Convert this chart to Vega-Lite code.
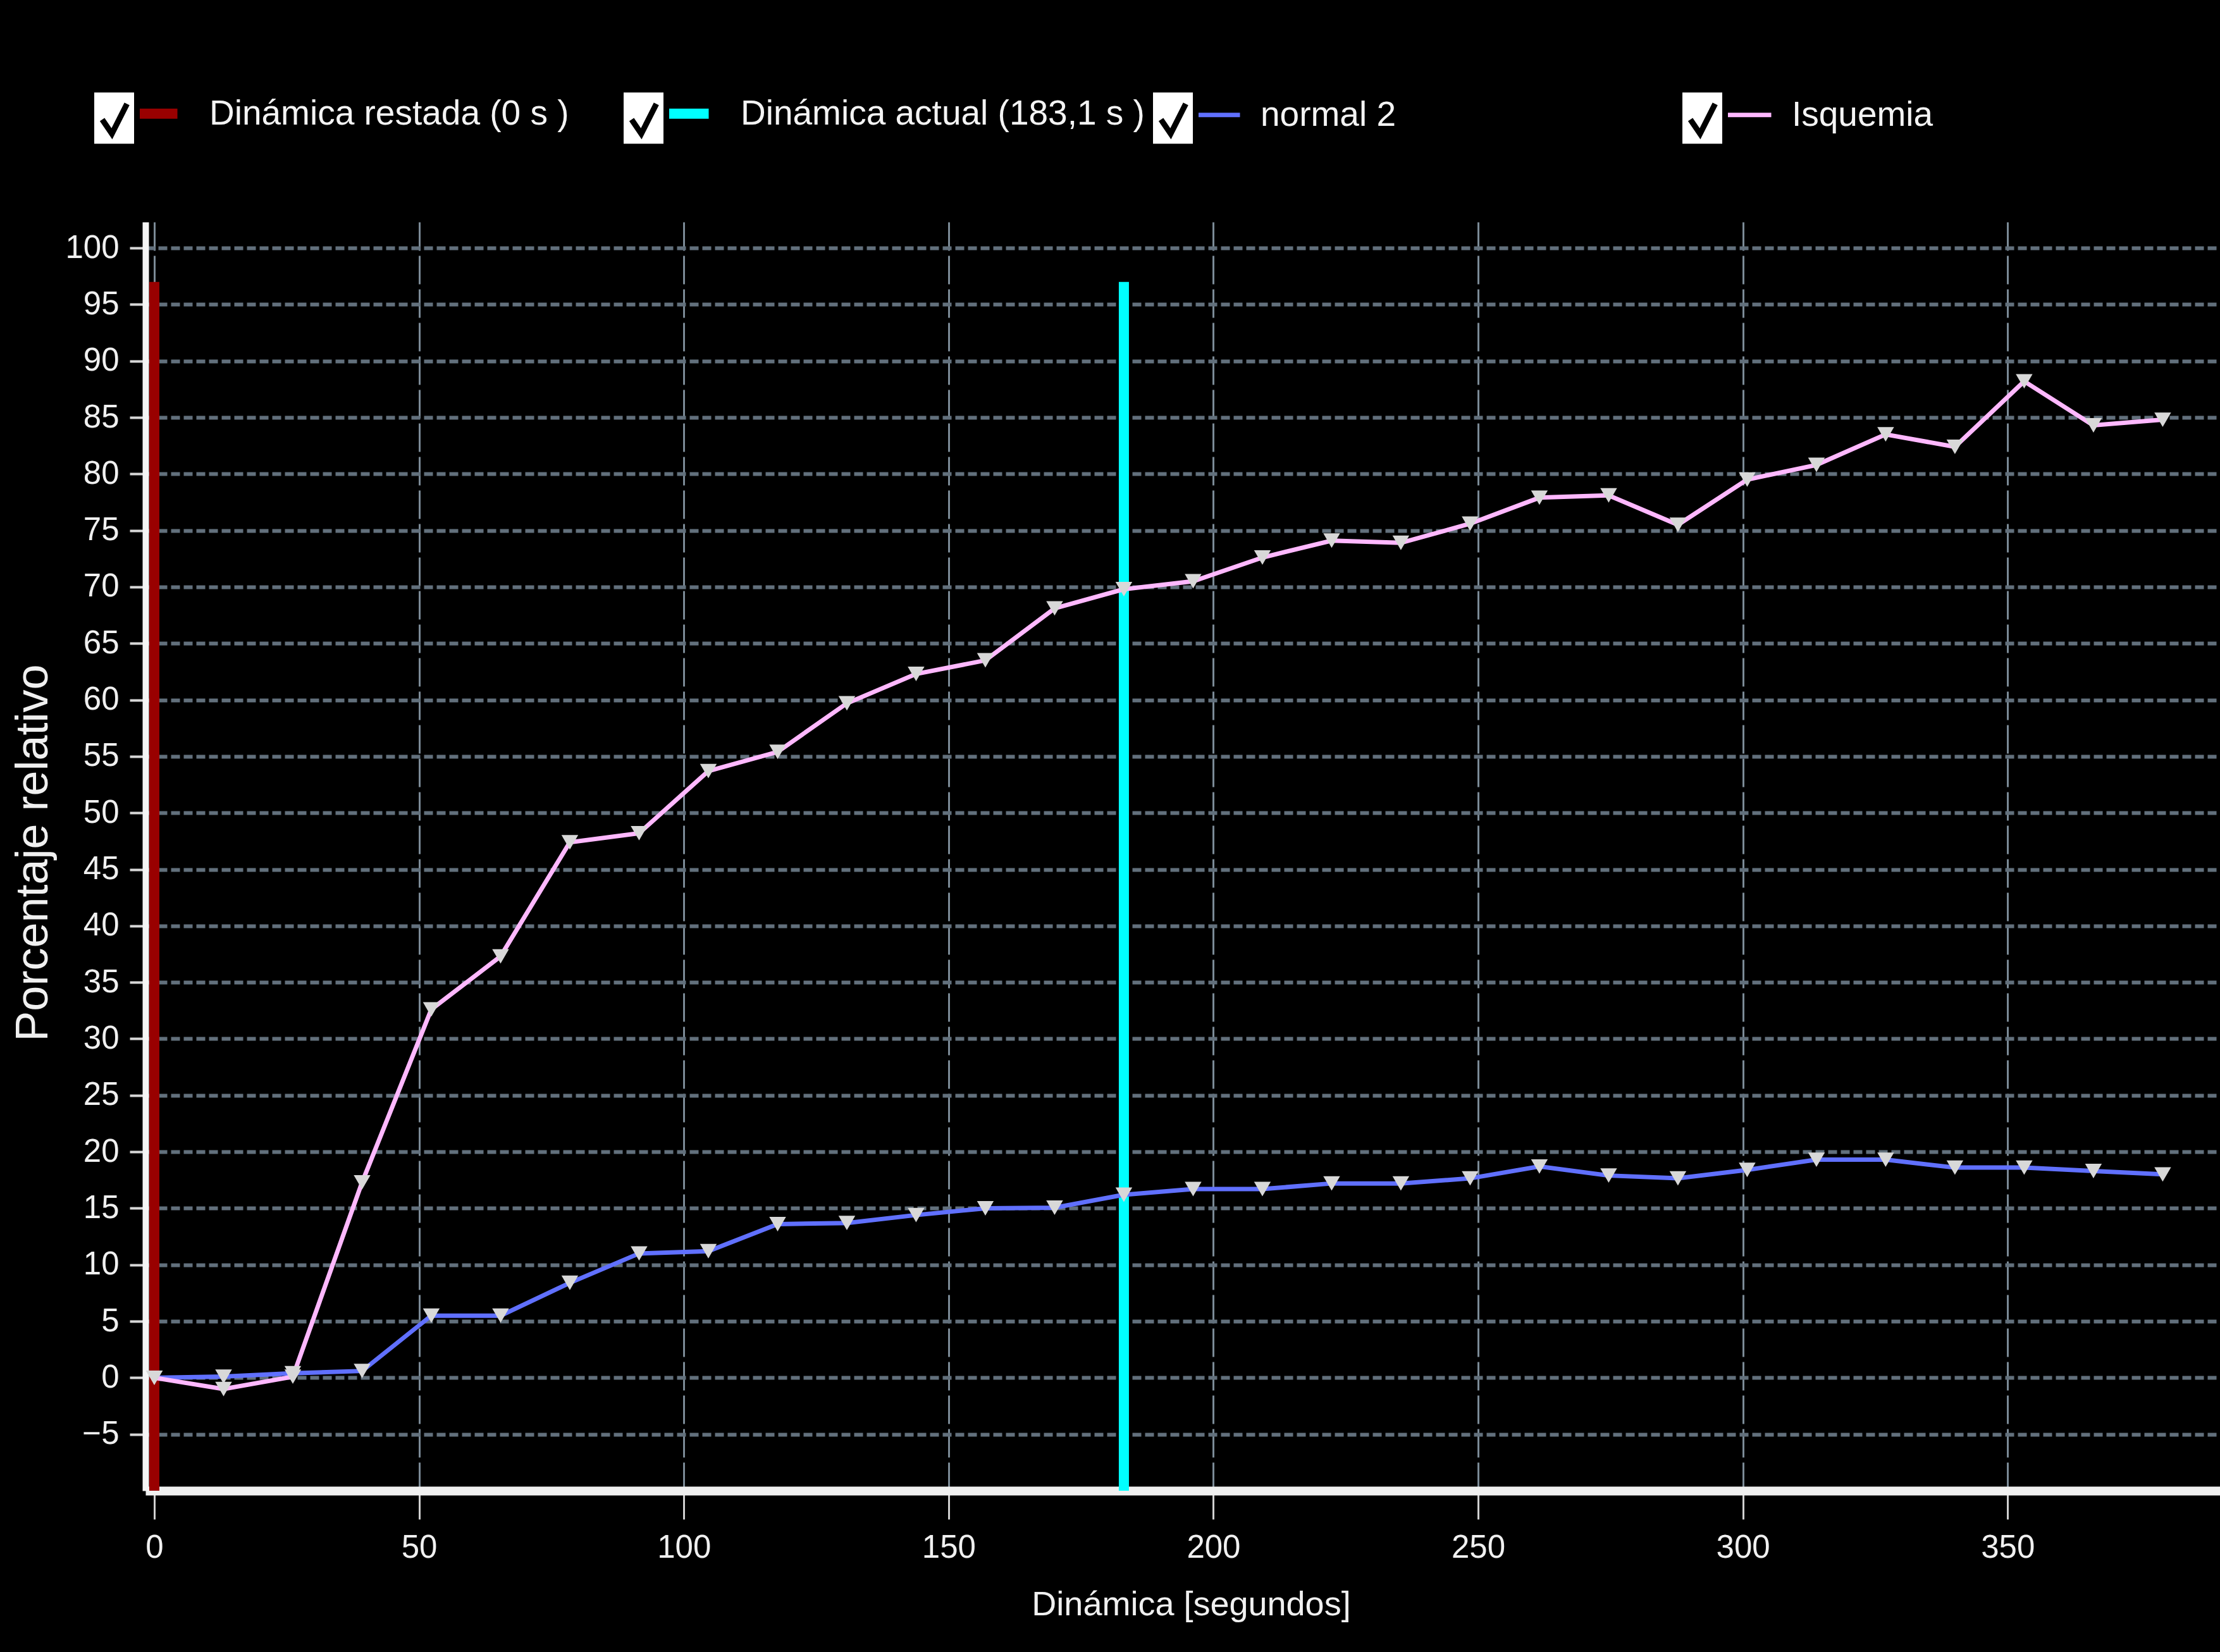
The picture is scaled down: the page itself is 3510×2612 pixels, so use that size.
{
  "$schema": "https://vega.github.io/schema/vega-lite/v6.json",
  "width": 3280,
  "height": 2006,
  "autosize": "none",
  "padding": {"left": 230, "top": 351, "right": 0, "bottom": 255},
  "background": "black",
  "config": {
    "view": {"stroke": null},
    "font": "Liberation Sans"
  },
  "datasets": {
    "rules": [
      {"serie": "Dinámica restada (0 s )", "chk": "Dinámica restada (0 s )", "t": 0, "v": -10, "v2": 97},
      {"serie": "Dinámica actual (183,1 s )", "chk": "Dinámica actual (183,1 s )", "t": 183.1, "v": -10, "v2": 97}
    ],
    "series": [
      {"serie": "normal 2", "chk": "normal 2", "t": 0, "v": 0},
      {"serie": "normal 2", "chk": "normal 2", "t": 13.08, "v": 0.1},
      {"serie": "normal 2", "chk": "normal 2", "t": 26.16, "v": 0.4},
      {"serie": "normal 2", "chk": "normal 2", "t": 39.24, "v": 0.6},
      {"serie": "normal 2", "chk": "normal 2", "t": 52.31, "v": 5.5},
      {"serie": "normal 2", "chk": "normal 2", "t": 65.39, "v": 5.5},
      {"serie": "normal 2", "chk": "normal 2", "t": 78.47, "v": 8.4},
      {"serie": "normal 2", "chk": "normal 2", "t": 91.55, "v": 11.0},
      {"serie": "normal 2", "chk": "normal 2", "t": 104.63, "v": 11.2},
      {"serie": "normal 2", "chk": "normal 2", "t": 117.71, "v": 13.6},
      {"serie": "normal 2", "chk": "normal 2", "t": 130.79, "v": 13.7},
      {"serie": "normal 2", "chk": "normal 2", "t": 143.86, "v": 14.4},
      {"serie": "normal 2", "chk": "normal 2", "t": 156.94, "v": 15.0},
      {"serie": "normal 2", "chk": "normal 2", "t": 170.02, "v": 15.05},
      {"serie": "normal 2", "chk": "normal 2", "t": 183.1, "v": 16.2},
      {"serie": "normal 2", "chk": "normal 2", "t": 196.18, "v": 16.7},
      {"serie": "normal 2", "chk": "normal 2", "t": 209.26, "v": 16.7},
      {"serie": "normal 2", "chk": "normal 2", "t": 222.34, "v": 17.2},
      {"serie": "normal 2", "chk": "normal 2", "t": 235.41, "v": 17.2},
      {"serie": "normal 2", "chk": "normal 2", "t": 248.49, "v": 17.65},
      {"serie": "normal 2", "chk": "normal 2", "t": 261.57, "v": 18.7},
      {"serie": "normal 2", "chk": "normal 2", "t": 274.65, "v": 17.9},
      {"serie": "normal 2", "chk": "normal 2", "t": 287.73, "v": 17.65},
      {"serie": "normal 2", "chk": "normal 2", "t": 300.81, "v": 18.4},
      {"serie": "normal 2", "chk": "normal 2", "t": 313.89, "v": 19.3},
      {"serie": "normal 2", "chk": "normal 2", "t": 326.96, "v": 19.3},
      {"serie": "normal 2", "chk": "normal 2", "t": 340.04, "v": 18.6},
      {"serie": "normal 2", "chk": "normal 2", "t": 353.12, "v": 18.6},
      {"serie": "normal 2", "chk": "normal 2", "t": 366.2, "v": 18.3},
      {"serie": "normal 2", "chk": "normal 2", "t": 379.28, "v": 18.0},
      {"serie": "Isquemia", "chk": "Isquemia", "t": 0, "v": 0},
      {"serie": "Isquemia", "chk": "Isquemia", "t": 13.08, "v": -1.0},
      {"serie": "Isquemia", "chk": "Isquemia", "t": 26.16, "v": 0.1},
      {"serie": "Isquemia", "chk": "Isquemia", "t": 39.24, "v": 17.3},
      {"serie": "Isquemia", "chk": "Isquemia", "t": 52.31, "v": 32.6},
      {"serie": "Isquemia", "chk": "Isquemia", "t": 65.39, "v": 37.3},
      {"serie": "Isquemia", "chk": "Isquemia", "t": 78.47, "v": 47.4},
      {"serie": "Isquemia", "chk": "Isquemia", "t": 91.55, "v": 48.2},
      {"serie": "Isquemia", "chk": "Isquemia", "t": 104.63, "v": 53.7},
      {"serie": "Isquemia", "chk": "Isquemia", "t": 117.71, "v": 55.4},
      {"serie": "Isquemia", "chk": "Isquemia", "t": 130.79, "v": 59.7},
      {"serie": "Isquemia", "chk": "Isquemia", "t": 143.86, "v": 62.3},
      {"serie": "Isquemia", "chk": "Isquemia", "t": 156.94, "v": 63.5},
      {"serie": "Isquemia", "chk": "Isquemia", "t": 170.02, "v": 68.1},
      {"serie": "Isquemia", "chk": "Isquemia", "t": 183.1, "v": 69.8},
      {"serie": "Isquemia", "chk": "Isquemia", "t": 196.18, "v": 70.5},
      {"serie": "Isquemia", "chk": "Isquemia", "t": 209.26, "v": 72.6},
      {"serie": "Isquemia", "chk": "Isquemia", "t": 222.34, "v": 74.1},
      {"serie": "Isquemia", "chk": "Isquemia", "t": 235.41, "v": 73.9},
      {"serie": "Isquemia", "chk": "Isquemia", "t": 248.49, "v": 75.6},
      {"serie": "Isquemia", "chk": "Isquemia", "t": 261.57, "v": 77.9},
      {"serie": "Isquemia", "chk": "Isquemia", "t": 274.65, "v": 78.1},
      {"serie": "Isquemia", "chk": "Isquemia", "t": 287.73, "v": 75.5},
      {"serie": "Isquemia", "chk": "Isquemia", "t": 300.81, "v": 79.5},
      {"serie": "Isquemia", "chk": "Isquemia", "t": 313.89, "v": 80.8},
      {"serie": "Isquemia", "chk": "Isquemia", "t": 326.96, "v": 83.5},
      {"serie": "Isquemia", "chk": "Isquemia", "t": 340.04, "v": 82.4},
      {"serie": "Isquemia", "chk": "Isquemia", "t": 353.12, "v": 88.2},
      {"serie": "Isquemia", "chk": "Isquemia", "t": 366.2, "v": 84.3},
      {"serie": "Isquemia", "chk": "Isquemia", "t": 379.28, "v": 84.8}
    ]
  },
  "encoding": {
    "x": {
      "field": "t", "type": "quantitative",
      "scale": {"domain": [-1.67, 390.1], "nice": false, "zero": false},
      "axis": {
        "values": [0, 50, 100, 150, 200, 250, 300, 350],
        "title": "Dinámica [segundos]",
        "grid": true, "gridColor": "#7b8a96", "gridDash": [45, 8], "gridWidth": 3,
        "domainColor": "#f0f0f0", "domainWidth": 14,
        "tickColor": "#d0d0d0", "tickSize": 45, "tickWidth": 3,
        "labelColor": "#f0f0f0", "labelFont": "Liberation Sans", "labelFontSize": 51, "labelPadding": 20,
        "labelFlush": false, "labelOverlap": false,
        "titleColor": "#f0f0f0", "titleFont": "Liberation Sans", "titleFontSize": 54, "titleFontWeight": "normal",
        "titleX": 1653, "titleY": 180, "titleAlign": "center", "titleBaseline": "middle"
      }
    },
    "y": {
      "field": "v", "type": "quantitative",
      "scale": {"domain": [-10, 102.3], "nice": false, "zero": false},
      "axis": {
        "values": [-5, 0, 5, 10, 15, 20, 25, 30, 35, 40, 45, 50, 55, 60, 65, 70, 75, 80, 85, 90, 95, 100],
        "title": "Porcentaje relativo",
        "grid": true, "gridColor": "#62707c", "gridDash": [14, 6], "gridWidth": 6,
        "domainColor": "#f5f5f5", "domainWidth": 10,
        "tickColor": "#d8d8d8", "tickSize": 25, "tickWidth": 4,
        "labelColor": "#f0f0f0", "labelFont": "Liberation Sans", "labelFontSize": 51, "labelPadding": 17,
        "labelFlush": false, "labelOverlap": false,
        "titleColor": "#f0f0f0", "titleFont": "Liberation Sans", "titleFontSize": 72, "titleFontWeight": "normal",
        "titleX": -178, "titleY": 997, "titleAngle": 270, "titleAlign": "center", "titleBaseline": "middle"
      }
    }
  },
  "layer": [
    {
      "data": {"name": "rules"},
      "mark": {"type": "rule", "strokeWidth": 16},
      "encoding": {
        "y2": {"field": "v2"},
        "color": {
          "field": "serie", "type": "nominal",
          "scale": {"domain": ["Dinámica restada (0 s )", "Dinámica actual (183,1 s )", "normal 2", "Isquemia"], "range": ["#990000", "#00ffff", "#6070ff", "#ffb8ff"]},
          "legend": {
            "orient": "none", "legendX": -13, "legendY": -199,
            "direction": "horizontal", "columns": 4, "gridAlign": "all", "title": null, "padding": 0,
            "symbolType": "stroke", "symbolSize": 5184, "symbolStrokeWidth": 16,
            "labelFont": "Liberation Sans", "labelFontSize": 55, "labelColor": "#f4f4f4", "labelLimit": 2000, "labelOffset": 59,
            "columnPadding": 46,
            "encode": {
              "symbols": {"update": {"strokeWidth": {"signal": "datum.value === 'normal 2' || datum.value === 'Isquemia' ? 7 : 16"}, "opacity": {"value": 1}}},
              "labels": {"update": {"dx": {"signal": "datum.value === 'normal 2' || datum.value === 'Isquemia' ? -18 : 0"}}}
            }
          }
        },
        "opacity": {
          "field": "chk", "type": "ordinal",
          "scale": {"type": "point", "range": [1, 1]},
          "legend": {
            "orient": "none", "legendX": -99, "legendY": -214,
            "direction": "horizontal", "columns": 4, "gridAlign": "all", "title": null, "padding": 0,
            "symbolType": "M-0.8,-1H0.8V1H-0.8Z M0.45,-0.5L-0.08,0.55L-0.42,0.05",
            "symbolSize": 8100, "symbolStrokeWidth": 9, "symbolFillColor": "white", "symbolStrokeColor": "black",
            "labelExpr": "''", "labelFontSize": 10, "labelOffset": 0, "labelLimit": 10,
            "columnPadding": 728,
            "encode": {"symbols": {"update": {"fill": {"value": "white"}, "stroke": {"value": "black"}, "strokeWidth": {"value": 9}, "opacity": {"value": 1}, "fillOpacity": {"value": 1}}}}
          }
        }
      }
    },
    {
      "data": {"name": "series"},
      "mark": {"type": "line", "strokeWidth": 7},
      "encoding": {
        "color": {
          "field": "serie", "type": "nominal",
          "scale": {"domain": ["Dinámica restada (0 s )", "Dinámica actual (183,1 s )", "normal 2", "Isquemia"], "range": ["#990000", "#00ffff", "#6070ff", "#ffb8ff"]}
        },
        "opacity": {"field": "chk", "type": "ordinal", "scale": {"type": "point", "range": [1, 1]}}
      }
    },
    {
      "data": {"name": "series"},
      "mark": {"type": "point", "shape": "triangle-down", "filled": true, "fill": "#d8d8d8", "size": 700, "opacity": 1, "strokeWidth": 0},
      "encoding": {
        "detail": {"field": "serie", "type": "nominal"}
      }
    }
  ]
}
